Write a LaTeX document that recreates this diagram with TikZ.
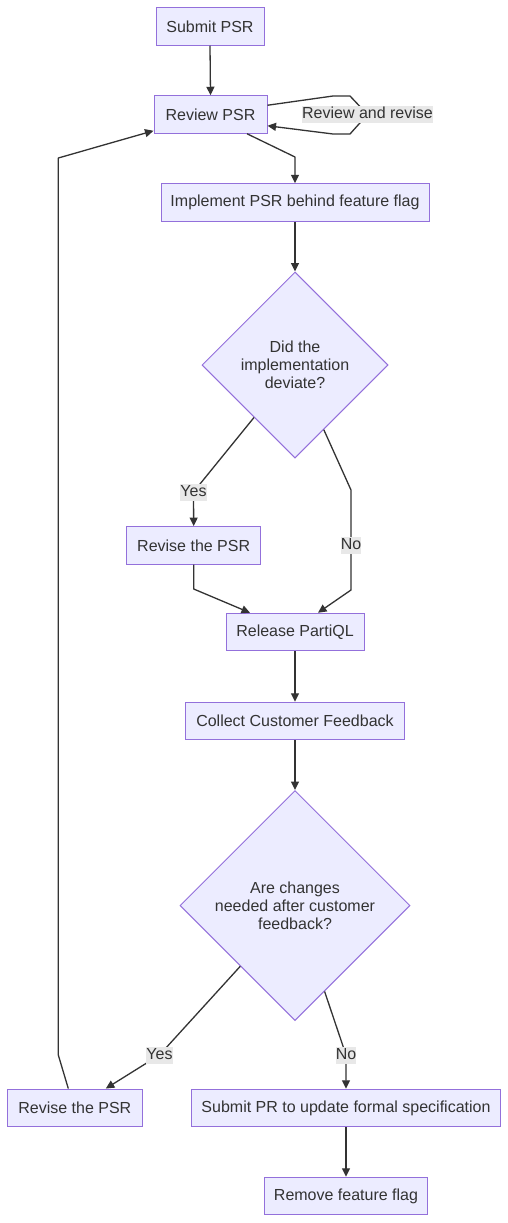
\documentclass[tikz,border=0pt]{standalone}
\usepackage{fontspec}
\setmainfont{Liberation Sans}
\usetikzlibrary{shapes.geometric,arrows.meta,calc}
\definecolor{nodefill}{HTML}{ECECFF}
\definecolor{nodeline}{HTML}{9370DB}
\definecolor{edgeline}{HTML}{333333}
\definecolor{txt}{HTML}{333333}
\definecolor{lblbg}{HTML}{E8E8E8}
\begin{document}
\begin{tikzpicture}[x=1pt,y=-1pt,
  font=\fontsize{16}{18}\selectfont, text=txt,
  box/.style={draw=nodeline, fill=nodefill, line width=1pt, minimum height=37.5pt, inner sep=0pt},
  dec/.style={diamond, draw=nodeline, fill=nodefill, line width=1pt, inner sep=0pt, align=center},
  conn/.style={draw=edgeline, line width=1.3pt, -{Triangle[length=8.5pt,width=8pt]}, line join=round},
  lbl/.style={fill=lblbg, inner sep=0pt, minimum height=17pt, text height=12pt, text depth=3.5pt}]
\useasboundingbox (0,0) rectangle (508,1223);
\fill[white] (0,0) rectangle (508,1223);
% nodes
\node[box, minimum width=108pt] (s) at (210,26.5) {Submit PSR};
\node[box, minimum width=113pt] (rv) at (210.5,114.5) {Review PSR};
\node[box, minimum width=268pt] (im) at (295,202.5) {Implement PSR behind feature flag};
\node[dec, minimum width=186pt, minimum height=186pt] (d1) at (295,365) {Did the\\implementation\\deviate?};
\node[box, minimum width=134pt] (r1) at (193.7,545.3) {Revise the PSR};
\node[box, minimum width=138pt] (rel) at (295,632) {Release PartiQL};
\node[box, minimum width=219pt] (col) at (295,721) {Collect Customer Feedback};
\node[dec, minimum width=230pt, minimum height=230pt] (d2) at (295,905.5) {Are changes\\needed after customer\\feedback?};
\node[box, minimum width=134.5pt] (r2) at (74.8,1107.8) {Revise the PSR};
\node[box, minimum width=308.3pt] (pr) at (346,1108) {Submit PR to update formal specification};
\node[box, minimum width=163pt] (rm) at (346,1196) {Remove feature flag};
% label positions
\coordinate (clr) at (367.5,114.5);
\coordinate (cy1) at (193.5,492);
\coordinate (cn1) at (351,545);
\coordinate (cy2) at (159.5,1055);
\coordinate (cn2) at (346,1055);
% edges
\draw[conn] (s.south) -- (rv.north);
\draw[conn] ($(rv.north east)+(0,10)$) -- (333,96) -- (350,96) -- (clr) -- (350,134) -- (333,134) -- ($(rv.south east)+(0,-8)$);
\draw[conn] ($(rv.south)+(36.5,0)$) -- (295,157) -- (im.north);
\draw[conn] (im.south) -- (d1.north);
\draw[conn] (d1.-128) -- (cy1) -- (r1.north);
\draw[conn] (d1.-66) -- (351,490) -- (cn1) -- (351,590) -- ($(rel.north)+(23,0)$);
\draw[conn] (r1.south) -- (193.7,589) -- ($(rel.north)+(-45,0)$);
\draw[conn] (rel.south) -- (col.north);
\draw[conn] (col.south) -- (d2.north);
\draw[conn] (d2.-132) -- (cy2) -- ($(r2.north)+(31,0)$);
\draw[conn] (d2.-71) -- (cn2) -- (pr.north);
\draw[conn] (pr.south) -- (rm.north);
\draw[conn] ($(r2.north)+(-6.5,0)$) -- (58.3,1055) -- (58.3,158) -- ($(rv.south west)+(0,-3)$);
% labels
\node[lbl] (lrr) at (clr) {Review and revise};
\node[lbl] (y1) at (cy1) {Yes};
\node[lbl] (n1) at (cn1) {No};
\node[lbl] (y2) at (cy2) {Yes};
\node[lbl] (n2) at (cn2) {No};
\end{tikzpicture}
\end{document}
